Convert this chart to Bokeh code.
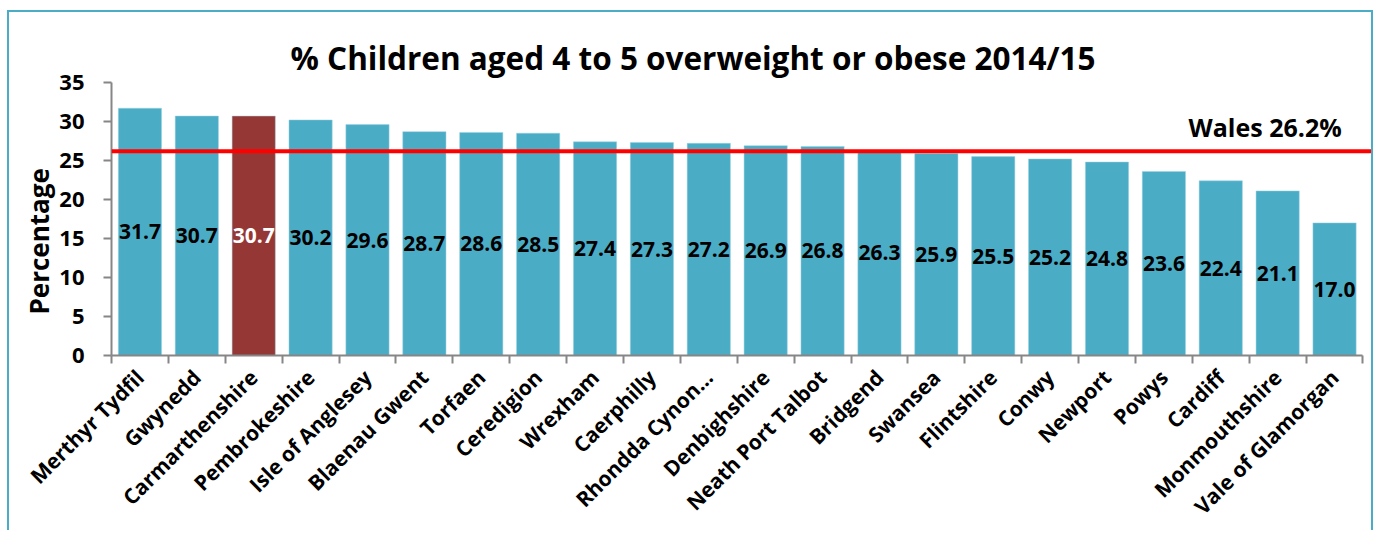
from bokeh.plotting import figure
from bokeh.models import ColumnDataSource, FixedTicker, Range1d, Span, Label, Title
from bokeh.embed import file_html
from bokeh.resources import INLINE
from bokeh.core.properties import value

names = ["Merthyr Tydfil", "Gwynedd", "Carmarthenshire", "Pembrokeshire", "Isle of Anglesey",
         "Blaenau Gwent", "Torfaen", "Ceredigion", "Wrexham", "Caerphilly", "Rhondda Cynon…",
         "Denbighshire", "Neath Port Talbot", "Bridgend", "Swansea", "Flintshire", "Conwy",
         "Newport", "Powys", "Cardiff", "Monmouthshire", "Vale of Glamorgan"]
values = [31.7, 30.7, 30.7, 30.2, 29.6, 28.7, 28.6, 28.5, 27.4, 27.3, 27.2, 26.9, 26.8,
          26.3, 25.9, 25.5, 25.2, 24.8, 23.6, 22.4, 21.1, 17.0]
highlight = "Carmarthenshire"
wales_value = 26.2
y_ticks = [0, 5, 10, 15, 20, 25, 30, 35]

FONT = "Open Sans"
TEAL = "#4BACC6"
DARK_RED = "#953735"

xs = list(range(len(names)))
colors = [DARK_RED if n == highlight else TEAL for n in names]
text_colors = ["white" if n == highlight else "black" for n in names]
labels = ["%.1f" % v for v in values]
mid = [v / 2 for v in values]

src = ColumnDataSource(dict(x=xs, top=values, color=colors, tc=text_colors, lab=labels, mid=mid))

p = figure(width=1366, height=520, output_backend="svg", toolbar_location=None,
           x_range=Range1d(-0.5, 21.72), y_range=Range1d(0, 35),
           min_border_left=102, min_border_right=0, min_border_top=70, min_border_bottom=174,
           title="% Children aged 4 to 5 overweight or obese 2014/15")
p.styles = {"margin-left": "7px", "margin-top": "10px",
            "border-left": "2px solid " + TEAL, "border-top": "2px solid " + TEAL,
            "border-right": "2px solid " + TEAL}
p.outline_line_color = None
p.grid.visible = False

p.title.align = "left"
p.title.offset = 179
p.title.text_font = FONT
p.title.text_font_size = "31.5px"
p.title.text_font_style = "bold"
p.title.text_color = "black"
p.title.standoff = 8

p.vbar(x="x", top="top", width=0.76, color="color", line_color="#9fd3e0", line_width=0.5, source=src)
p.text(x="x", y="mid", text="lab", text_color="tc", text_align="center", text_baseline="middle",
       text_font=value(FONT), text_font_size="21px", text_font_style="bold", source=src)

p.add_layout(Span(location=wales_value, dimension="width", line_color="#FF0000", line_width=4))
p.add_layout(Label(x=19.78, y=wales_value, y_offset=24, text="Wales %.1f%%" % wales_value,
                   text_align="center", text_baseline="middle", text_font=FONT,
                   text_font_size="25px", text_font_style="bold", text_color="black"))

# y axis title
p.add_layout(Title(text="Percentage", align="left", offset=41, standoff=0, text_font=FONT,
                   text_font_size="26px", text_font_style="bold", text_color="black"), "left")

GREY = "#868686"
xa = p.xaxis[0]
xa.ticker = FixedTicker(ticks=xs, minor_ticks=[i - 0.5 for i in range(len(names) + 1)])
xa.major_label_overrides = {i: n for i, n in enumerate(names)}
xa.major_label_orientation = 0.785398
xa.major_label_text_font = FONT
xa.major_label_text_font_size = "21px"
xa.major_label_text_font_style = "bold"
xa.major_label_text_color = "black"
xa.major_tick_out = 0
xa.major_tick_in = 0
xa.minor_tick_out = 8
xa.minor_tick_in = 0
xa.minor_tick_line_color = GREY
xa.minor_tick_line_width = 2
xa.axis_line_color = GREY
xa.axis_line_width = 2
xa.bounds = (-0.5, 21.5)
xa.major_label_standoff = 10

ya = p.yaxis[0]
ya.ticker = FixedTicker(ticks=y_ticks)
ya.major_label_text_font = FONT
ya.major_label_text_font_size = "22px"
ya.major_label_text_font_style = "bold"
ya.major_label_text_color = "black"
ya.major_tick_out = 8
ya.major_tick_in = 0
ya.minor_tick_out = 0
ya.minor_tick_in = 0
ya.major_tick_line_color = GREY
ya.major_tick_line_width = 2
ya.axis_line_color = GREY
ya.axis_line_width = 2
ya.major_label_standoff = 19

open("out.html", "w").write(file_html(p, INLINE))
